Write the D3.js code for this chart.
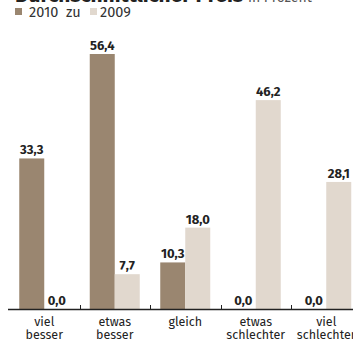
<!DOCTYPE html>
<html>
<head>
<meta charset="utf-8">
<script src="https://cdn.jsdelivr.net/npm/d3@7"></script>
<style>
  body { margin: 0; background: #fff; }
  svg { display: block; font-family: "Fira Sans", "Open Sans", "DejaVu Sans", sans-serif; }
</style>
</head>
<body>
<div id="chart"></div>
<script>
// categories (two label lines each) and the two series
const categories = ["viel besser", "etwas besser", "gleich", "etwas schlechter", "viel schlechter"];
const catLines = [["viel", "besser"], ["etwas", "besser"], ["gleich"], ["etwas", "schlechter"], ["viel", "schlechter"]];
const series = ["2010", "2009"];
const values2010 = [33.3, 56.4, 10.3, 0.0, 0.0];
const values2009 = [0.0, 7.7, 18.0, 46.2, 28.1];

const width = 353, height = 341;
const colors = {"2010": "#9a8670", "2009": "#e1d8ce"};

const svg = d3.select("#chart").append("svg")
    .attr("width", width)
    .attr("height", height);

// title, mostly cut off at the top edge
let title = svg.append("text")
    .attr("x", 15).attr("y", 1.5)
    .attr("fill", "#222");
title.append("tspan")
    .attr("font-size", 20).attr("font-weight", "bold")
    .attr("textLength", 228).attr("lengthAdjust", "spacingAndGlyphs")
    .text("Durchschnittlicher Preis");
title.append("tspan")
    .attr("x", 248)
    .attr("font-size", 14).attr("fill", "#555")
    .text("in Prozent");

// legend
let legend = svg.append("g").attr("font-size", 14.5).attr("fill", "#333");
legend.append("rect").attr("x", 15).attr("y", 8).attr("width", 7).attr("height", 7).attr("fill", colors["2010"]);
legend.append("text").attr("x", 29).attr("y", 17).text("2010");
legend.append("text").attr("x", 66).attr("y", 17).text("zu");
legend.append("rect").attr("x", 90).attr("y", 8).attr("width", 7).attr("height", 7).attr("fill", colors["2009"]);
legend.append("text").attr("x", 100).attr("y", 17).text("2009");

const baseline = 309;
const x = d3.scaleBand().domain(categories).range([9, 361.5]).paddingInner(0).paddingOuter(0);
const xs = d3.scaleBand().domain(series).range([0, 50]);
const y = d3.scaleLinear().domain([0, 56.4]).range([baseline, 54]);

const data = categories.map((c, i) => ({
    cat: c,
    vals: [{s: "2010", v: values2010[i]}, {s: "2009", v: values2009[i]}]
}));

let groups = svg.append("g").selectAll("g")
    .data(data)
    .enter().append("g")
    .attr("transform", d => "translate(" + (x(d.cat) + (x.bandwidth() - 50) / 2) + ",0)");

groups.selectAll("rect")
    .data(d => d.vals)
    .enter().append("rect")
    .attr("x", d => xs(d.s))
    .attr("width", xs.bandwidth())
    .attr("y", d => y(d.v))
    .attr("height", d => baseline - y(d.v))
    .attr("fill", d => colors[d.s]);

groups.selectAll("text.val")
    .data(d => d.vals)
    .enter().append("text")
    .attr("class", "val")
    .attr("x", d => xs(d.s) + xs.bandwidth() / 2)
    .attr("y", d => y(d.v) - 4)
    .attr("text-anchor", "middle")
    .attr("font-size", 13)
    .attr("font-weight", "bold")
    .attr("fill", "#222")
    .text(d => d3.format(".1f")(d.v).replace(".", ","));

// axis line with small ticks between groups
svg.append("line")
    .attr("x1", 8).attr("x2", width)
    .attr("y1", baseline + 0.5).attr("y2", baseline + 0.5)
    .attr("stroke", "#222").attr("stroke-width", 1.5);

svg.append("g").selectAll("line")
    .data(categories.slice(1))
    .enter().append("line")
    .attr("x1", d => Math.round(x(d)) + 0.5)
    .attr("x2", d => Math.round(x(d)) + 0.5)
    .attr("y1", baseline - 4).attr("y2", baseline)
    .attr("stroke", "#222").attr("stroke-width", 1);

// category labels
let labels = svg.append("g").selectAll("text")
    .data(categories)
    .enter().append("text")
    .attr("text-anchor", "middle")
    .attr("font-size", 12.5)
    .attr("fill", "#222")
    .attr("transform", d => "translate(" + (x(d) + x.bandwidth() / 2) + ",0)");

labels.selectAll("tspan")
    .data((d, i) => catLines[i])
    .enter().append("tspan")
    .attr("x", 0)
    .attr("y", (d, i) => 326 + i * 13)
    .text(d => d);
</script>
</body>
</html>
